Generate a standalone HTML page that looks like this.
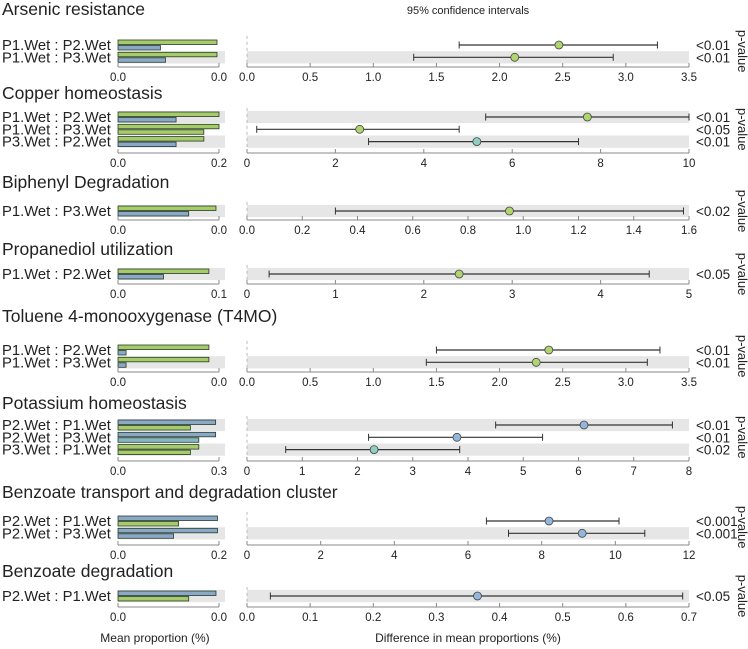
<!DOCTYPE html>
<html><head><meta charset="utf-8"><style>
body{margin:0;background:#fff;}
svg{display:block;font-family:"Liberation Sans",sans-serif;}
</style></head><body>
<svg id="chart" width="748" height="649"></svg>
<script>
const titles=["Arsenic resistance","Copper homeostasis","Biphenyl Degradation","Propanediol utilization","Toluene 4-monooxygenase (T4MO)","Potassium homeostasis","Benzoate transport and degradation cluster","Benzoate degradation"];
const rowLabels=[["P1.Wet : P2.Wet","P1.Wet : P3.Wet"],["P1.Wet : P2.Wet","P1.Wet : P3.Wet","P3.Wet : P2.Wet"],["P1.Wet : P3.Wet"],["P1.Wet : P2.Wet"],["P1.Wet : P2.Wet","P1.Wet : P3.Wet"],["P2.Wet : P1.Wet","P2.Wet : P3.Wet","P3.Wet : P1.Wet"],["P2.Wet : P1.Wet","P2.Wet : P3.Wet"],["P2.Wet : P1.Wet"]];
const meanA=[[0.98,0.98],[0.2,0.2,0.17],[0.97],[0.09],[0.9,0.9],[0.29,0.29,0.24],[0.197,0.197],[0.97]];
const meanB=[[0.42,0.47],[0.115,0.17,0.115],[0.7],[0.045],[0.08,0.08],[0.215,0.24,0.215],[0.12,0.11],[0.7]];
const colA=[["g","g"],["g","g","g"],["g"],["g"],["g","g"],["b","b","g"],["b","b"],["b"]];
const colB=[["b","b"],["b","g","b"],["b"],["b"],["b","b"],["g","t","g"],["g","b"],["g"]];
const leftMax=[1,0.2,1,0.1,1,0.3,0.2,1];
const leftTickLabels=[["0.0","0.0"],["0.0","0.2"],["0.0","0.0"],["0.0","0.1"],["0.0","0.0"],["0.0","0.3"],["0.0","0.2"],["0.0","0.0"]];
const diffMean=[[2.47,2.12],[7.7,2.55,5.2],[0.95],[2.4],[2.39,2.29],[6.1,3.8,2.3],[8.2,9.1],[0.365]];
const ciLow=[[1.68,1.32],[5.4,0.22,2.75],[0.32],[0.25],[1.5,1.42],[4.5,2.2,0.7],[6.5,7.1],[0.037]];
const ciHigh=[[3.25,2.9],[10,4.8,7.5],[1.58],[4.55],[3.27,3.17],[7.7,5.35,3.85],[10.1,10.8],[0.69]];
const dotCol=[["g","g"],["g","g","t"],["g"],["g"],["g","g"],["b","b","t"],["b","b"],["b"]];
const pvals=[["<0.01","<0.01"],["<0.01","<0.05","<0.01"],["<0.02"],["<0.05"],["<0.01","<0.01"],["<0.01","<0.01","<0.02"],["<0.001","<0.001"],["<0.05"]];
const rightTicks=[[0,0.5,1,1.5,2,2.5,3,3.5],[0,2,4,6,8,10],[0,0.2,0.4,0.6,0.8,1,1.2,1.4,1.6],[0,1,2,3,4,5],[0,0.5,1,1.5,2,2.5,3,3.5],[0,1,2,3,4,5,6,7,8],[0,2,4,6,8,10,12],[0,0.1,0.2,0.3,0.4,0.5,0.6,0.7]];
const rightTickDec=[1,0,1,0,1,0,0,1];
const titleY=[9,93,182,249,316,403,492,571];
const firstRowY=[45,117,211,274,350,425,521,596];
const axisY=[67,153,220,284,372,461,545,607];
const barCol={g:"#a6cc6a",b:"#8aa9c6",t:"#86b8c0"};
const dCol={g:"#b0d56e",b:"#93b6da",t:"#8fcfc0"};
const svg=document.getElementById('chart');
const NS="http://www.w3.org/2000/svg";
function mk(tag,attrs,parent){const e=document.createElementNS(NS,tag);for(const k in attrs)e.setAttribute(k,attrs[k]);(parent||svg).appendChild(e);return e;}
const LX0=118,LX1=219,RX0=247,RX1=689,RH=12.3;
function lx(v,m){return LX0+(v/m)*(LX1-LX0);}
function rx(v,m){return RX0+(v/m)*(RX1-RX0);}
const ci=mk('text',{x:468,y:14,'font-size':11,'text-anchor':'middle',fill:'#222'});ci.textContent="95% confidence intervals";


titles.forEach((t,p)=>{
 const g=mk('g',{});
 
 
 const tt=mk('text',{x:2,y:titleY[p]+6,'font-size':17.5,fill:'#222'},g);tt.textContent=t;
 
 
 const rm=rightTicks[p][rightTicks[p].length-1];
 const n=rowLabels[p].length;
 for(let i=0;i<n;i++){
  const y=firstRowY[p]+i*RH;
  if((n===1)||(n===2&&i===1)||(n===3&&i!==1)){
   const s1=mk('rect',{x:LX0,y:y-RH/2,width:107,height:RH,fill:'#e6e6e6'},g);
   
   
   const s2=mk('rect',{x:RX0,y:y-RH/2,width:RX1-RX0,height:RH,fill:'#e6e6e6'},g);
   
   
  }
  const lb=mk('text',{x:2,y:y+5,'font-size':14.8,fill:'#222'},g);lb.textContent=rowLabels[p][i];
  
  
  const m=leftMax[p];
  const ba=mk('rect',{x:LX0,y:y-5,width:lx(meanA[p][i],m)-LX0,height:4.5,fill:barCol[colA[p][i]],stroke:'#2a3a2a','stroke-width':0.8},g);
  
  
  const bb=mk('rect',{x:LX0,y:y+0.5,width:lx(meanB[p][i],m)-LX0,height:4.5,fill:barCol[colB[p][i]],stroke:'#2a3a2a','stroke-width':0.8},g);
  
  
  const x1=rx(ciLow[p][i],rm),x2=rx(ciHigh[p][i],rm);
  const l=mk('line',{x1:x1,x2:x2,y1:y,y2:y,stroke:'#333','stroke-width':1.2},g);
  
  
  [x1,x2].forEach(x=>{const c=mk('line',{x1:x,x2:x,y1:y-3.5,y2:y+3.5,stroke:'#333','stroke-width':1},g);
   
   });
  const d=mk('circle',{cx:rx(diffMean[p][i],rm),cy:y,r:4,fill:dCol[dotCol[p][i]],stroke:'#444','stroke-width':0.8},g);
  
  
  const pv=mk('text',{x:696,y:y+5,'font-size':13.5,fill:'#222'},g);pv.textContent=pvals[p][i];
  
  
 }
 const ay=axisY[p];
 const top=firstRowY[p]-RH/2-3;
 mk('line',{x1:LX0,x2:LX1,y1:ay,y2:ay,stroke:'#888'},g);
 mk('line',{x1:RX0,x2:RX1,y1:ay,y2:ay,stroke:'#888'},g);
 mk('line',{x1:RX0,x2:RX0,y1:top,y2:ay,stroke:'#bbb','stroke-dasharray':'3,3'},g);
 [LX0,LX1].forEach((x,k)=>{
  mk('line',{x1:x,x2:x,y1:ay-4,y2:ay,stroke:'#888'},g);
  const t=mk('text',{x:x,y:ay+14,'font-size':11.5,'text-anchor':'middle',fill:'#222'},g);t.textContent=leftTickLabels[p][k];
  
  
 });
 rightTicks[p].forEach(v=>{
  const x=rx(v,rm);
  mk('line',{x1:x,x2:x,y1:ay-4,y2:ay,stroke:'#888'},g);
  const t=mk('text',{x:x,y:ay+14,'font-size':11.5,'text-anchor':'middle',fill:'#222'},g);t.textContent=v.toFixed(rightTickDec[p]);
  
  
 });
 const cy=firstRowY[p]+(n-1)*RH/2;
 const pl=mk('text',{x:0,y:0,'font-size':13,'text-anchor':'middle',fill:'#222',transform:`translate(738,${cy}) rotate(90)`},g);pl.textContent="p-value";
 
 
});
const x1=mk('text',{x:155,y:642,'font-size':12,'text-anchor':'middle',fill:'#222'});x1.textContent="Mean proportion (%)";


const x2=mk('text',{x:468,y:642,'font-size':12,'text-anchor':'middle',fill:'#222'});x2.textContent="Difference in mean proportions (%)";


</script>
</body></html>
